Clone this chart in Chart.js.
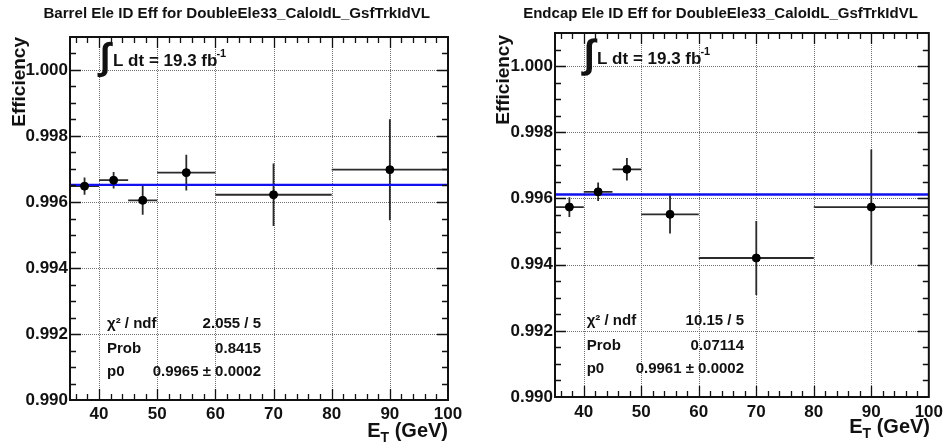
<!DOCTYPE html>
<html><head><meta charset="utf-8">
<script src="https://cdn.jsdelivr.net/npm/chart.js@4.4.1/dist/chart.umd.min.js"></script>
<style>
html,body{margin:0;padding:0;background:#fff;overflow:hidden}
#wrap{position:relative;width:948px;height:447px;background:#fff}
canvas{position:absolute;top:0}
</style></head><body>
<div id="wrap">
<canvas id="c1" width="474" height="447" style="left:0"></canvas>
<canvas id="c2" width="474" height="447" style="left:474px"></canvas>
</div>
<script>
// ---------------- data ----------------
const binEdges   = [35, 40, 45, 50, 60, 80, 100];
const binCenters = [37.5, 42.5, 47.5, 55, 70, 90];
const xTicks = [40, 50, 60, 70, 80, 90, 100];
const yTicks = [0.990, 0.992, 0.994, 0.996, 0.998, 1.000];
const xRange = [35, 100];
const yRange = [0.990, 1.001];

const barrelEff = [0.99648, 0.99666, 0.99605, 0.99689, 0.99622, 0.99698];
const barrelErr = [0.00026, 0.00025, 0.00044, 0.00054, 0.00095, 0.00153];
const barrelFit = 0.99652;
const barrelStatLabels = ["χ² / ndf", "Prob", "p0"];
const barrelStatValues = ["2.055 / 5", "0.8415", "0.9965 ± 0.0002"];
const barrelTitle = "Barrel Ele ID Eff for DoubleEle33_CaloIdL_GsfTrkIdVL";

const endcapEff = [0.99574, 0.99620, 0.99688, 0.99552, 0.99420, 0.99574];
const endcapErr = [0.00030, 0.00028, 0.00034, 0.00058, 0.00112, 0.00174];
const endcapFit = 0.99612;
const endcapStatLabels = ["χ² / ndf", "Prob", "p0"];
const endcapStatValues = ["10.15 / 5", "0.07114", "0.9961 ± 0.0002"];
const endcapTitle = "Endcap Ele ID Eff for DoubleEle33_CaloIdL_GsfTrkIdVL";

const yTitle = "Efficiency";
const xTitleMain = "E", xTitleSub = "T", xTitleRest = " (GeV)";
const lumiText = "L dt = 19.3 fb", lumiSup = "-1", integralChar = "∫";
const xMinorStep = 2, yMinorStep = 0.0005;

// ---------------- drawing ----------------
const FAM = '"Liberation Sans", Arial, Helvetica, sans-serif';

function makePlugin(P) {
  return {
    id: 'rootStyle',
    beforeDatasetsDraw(chart) {
      const {ctx, chartArea: a, scales: {x, y}} = chart;
      ctx.save();
      // dotted grid
      ctx.strokeStyle = '#6e6e6e'; ctx.lineWidth = 1; ctx.setLineDash([1, 1]);
      xTicks.forEach(v => {
        const px = Math.round(x.getPixelForValue(v)) + 0.5;
        if (px < a.right - 2) { ctx.beginPath(); ctx.moveTo(px, a.top); ctx.lineTo(px, a.bottom); ctx.stroke(); }
      });
      yTicks.forEach(v => {
        const py = Math.round(y.getPixelForValue(v)) + 0.5;
        if (py < a.bottom - 2 && py > a.top + 2) { ctx.beginPath(); ctx.moveTo(a.left, py); ctx.lineTo(a.right, py); ctx.stroke(); }
      });
      ctx.setLineDash([]);
      // error bars
      ctx.strokeStyle = '#2b2b2b'; ctx.lineWidth = 1.8;
      P.eff.forEach((v, i) => {
        const cx = x.getPixelForValue(binCenters[i]);
        const cy = y.getPixelForValue(v);
        ctx.beginPath();
        ctx.moveTo(x.getPixelForValue(binEdges[i]), cy);
        ctx.lineTo(x.getPixelForValue(binEdges[i + 1]), cy);
        ctx.moveTo(cx, y.getPixelForValue(v + P.err[i]));
        ctx.lineTo(cx, y.getPixelForValue(v - P.err[i]));
        ctx.stroke();
      });
      ctx.restore();
    },
    afterDraw(chart) {
      const {ctx, chartArea: a, scales: {x, y}} = chart;
      ctx.save();
      // ticks (inside, all four sides)
      ctx.strokeStyle = '#111'; ctx.lineWidth = 1.3;
      const MAJ = 11, MIN = 6;
      for (let v = xRange[0] + 1; v < xRange[1]; v += xMinorStep) {
        const major = xTicks.includes(v);
        const L = major ? MAJ : MIN;
        const px = Math.round(x.getPixelForValue(v)) + 0.5;
        ctx.beginPath();
        ctx.moveTo(px, a.bottom); ctx.lineTo(px, a.bottom - L);
        ctx.moveTo(px, a.top); ctx.lineTo(px, a.top + L);
        ctx.stroke();
      }
      for (let k = 1; ; k++) {
        const v = yRange[0] + k * yMinorStep;
        if (v >= yRange[1] - 1e-9) break;
        const major = yTicks.some(t => Math.abs(t - v) < 1e-9);
        const L = major ? MAJ : MIN;
        const py = Math.round(y.getPixelForValue(v)) + 0.5;
        ctx.beginPath();
        ctx.moveTo(a.left, py); ctx.lineTo(a.left + L, py);
        ctx.moveTo(a.right, py); ctx.lineTo(a.right - L, py);
        ctx.stroke();
      }
      // frame
      ctx.lineWidth = 2; ctx.strokeStyle = '#111';
      ctx.strokeRect(a.left, a.top, a.right - a.left, a.bottom - a.top);

      ctx.fillStyle = '#111';
      // title, fitted to width
      ctx.textAlign = 'center'; ctx.textBaseline = 'middle';
      ctx.font = 'bold 13px ' + FAM;
      let w = ctx.measureText(P.title).width;
      let fs = 13 * P.titleW / w;
      ctx.font = 'bold ' + fs.toFixed(2) + 'px ' + FAM;
      ctx.fillText(P.title, P.titleX, P.titleY);

      // y title
      ctx.save();
      ctx.translate(P.yTitleX, P.yTitleTop);
      ctx.rotate(-Math.PI / 2);
      ctx.textAlign = 'right'; ctx.textBaseline = 'middle';
      ctx.font = 'bold 19px ' + FAM;
      ctx.fillText(yTitle, 0, 0);
      ctx.restore();

      // x title  E_T (GeV)
      ctx.textAlign = 'left'; ctx.textBaseline = 'alphabetic';
      const fMain = 'bold 20px ' + FAM, fSub = 'bold 14px ' + FAM;
      ctx.font = fMain; const wE = ctx.measureText(xTitleMain).width; const wR = ctx.measureText(xTitleRest).width;
      ctx.font = fSub; const wT = ctx.measureText(xTitleSub).width;
      let sx = P.xTitleRight - (wE + wT + wR);
      ctx.font = fMain; ctx.fillText(xTitleMain, sx, P.xTitleBase);
      ctx.font = fSub; ctx.fillText(xTitleSub, sx + wE, P.xTitleBase + 5);
      ctx.font = fMain; ctx.fillText(xTitleRest, sx + wE + wT, P.xTitleBase);

      // integral sign scaled to box
      ctx.font = 'bold 100px ' + FAM;
      const m = ctx.measureText(integralChar);
      const h100 = m.actualBoundingBoxAscent + m.actualBoundingBoxDescent;
      const sc = (P.intBottom - P.intTop) / h100;
      ctx.font = 'bold ' + (100 * sc).toFixed(2) + 'px ' + FAM;
      ctx.fillText(integralChar, P.intLeft + m.actualBoundingBoxLeft * sc, P.intTop + m.actualBoundingBoxAscent * sc);
      // lumi text
      ctx.font = 'bold 17px ' + FAM;
      ctx.fillText(lumiText, P.lumiX, P.lumiBase);
      const wl = ctx.measureText(lumiText).width;
      ctx.font = 'bold 11px ' + FAM;
      ctx.fillText(lumiSup, P.lumiX + wl - 1, P.lumiBase - 9);

      // stats
      ctx.font = 'bold 15px ' + FAM;
      P.statLabels.forEach((s, i) => {
        ctx.textAlign = 'left';
        ctx.fillText(s, P.statX, P.statBase[i]);
        ctx.textAlign = 'right';
        ctx.fillText(P.statValues[i], P.statRight, P.statBase[i]);
      });
      ctx.restore();
    }
  };
}

function makeChart(id, eff, err, fit, P) {
  const tickFont = {family: FAM, size: 17, weight: 'bold'};
  return new Chart(document.getElementById(id), {
    type: 'scatter',
    data: {
      datasets: [
        {
          data: binCenters.map((c, i) => ({x: c, y: eff[i]})),
          backgroundColor: '#000', borderColor: '#000',
          pointRadius: 4, pointHoverRadius: 4, showLine: false
        },
        {
          type: 'line',
          data: [{x: xRange[0], y: fit}, {x: xRange[1], y: fit}],
          borderColor: '#1010f0', borderWidth: 2.4, pointRadius: 0, fill: false, tension: 0
        }
      ]
    },
    options: {
      responsive: false, animation: false, devicePixelRatio: 1,
      events: [],
      layout: {padding: {left: 0, top: P.top, right: P.right, bottom: 0}},
      plugins: {legend: {display: false}, tooltip: {enabled: false}, title: {display: false}},
      scales: {
        x: {
          type: 'linear', min: xRange[0], max: xRange[1],
          grid: {display: false, drawTicks: false}, border: {display: false},
          afterBuildTicks: s => { s.ticks = xTicks.map(v => ({value: v})); },
          afterFit: s => { s.height = P.xAxisH; },
          ticks: {padding: P.xPad, font: tickFont, color: '#111', maxRotation: 0, autoSkip: false,
                  callback: v => String(v)}
        },
        y: {
          type: 'linear', min: yRange[0], max: yRange[1],
          grid: {display: false, drawTicks: false}, border: {display: false},
          afterBuildTicks: s => { s.ticks = yTicks.map(v => ({value: v})); },
          afterFit: s => { s.width = P.yAxisW; },
          ticks: {padding: 2, font: tickFont, color: '#111', autoSkip: false,
                  callback: v => Number(v).toFixed(3)}
        }
      }
    },
    plugins: [makePlugin(Object.assign({eff, err}, P))]
  });
}

makeChart('c1', barrelEff, barrelErr, barrelFit, {
  top: 37, right: 26, xAxisH: 47, yAxisW: 70, xPad: 4,
  title: barrelTitle, titleX: 236.7, titleY: 13.5, titleW: 387,
  yTitleX: 20, yTitleTop: 37,
  xTitleRight: 448, xTitleBase: 437,
  intLeft: 97, intTop: 42, intBottom: 78, lumiX: 113, lumiBase: 66,
  statLabels: barrelStatLabels, statValues: barrelStatValues,
  statX: 107, statRight: 261, statBase: [328, 353, 376]
});
makeChart('c2', endcapEff, endcapErr, endcapFit, {
  top: 33, right: 16, xAxisH: 50, yAxisW: 81, xPad: 5,
  title: endcapTitle, titleX: 246.5, titleY: 13.5, titleW: 395,
  yTitleX: 29.5, yTitleTop: 35,
  xTitleRight: 456, xTitleBase: 433,
  intLeft: 107, intTop: 38, intBottom: 76, lumiX: 123, lumiBase: 64,
  statLabels: endcapStatLabels, statValues: endcapStatValues,
  statX: 112.7, statRight: 270, statBase: [325, 350, 372.7]
});
</script>
</body></html>
